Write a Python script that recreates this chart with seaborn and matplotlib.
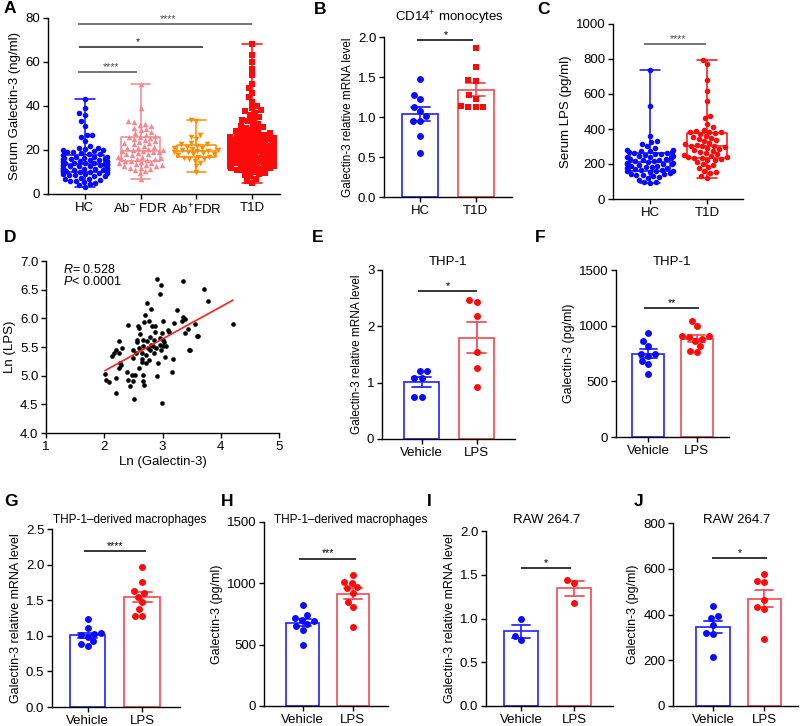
import warnings

import numpy as np
import pandas as pd
import matplotlib
matplotlib.use("Agg")
import matplotlib.pyplot as plt
import seaborn as sns

warnings.filterwarnings("ignore")

# ---------------- data ----------------
A_ORDER = ["HC", "Ab- FDR", "Ab+ FDR", "T1D"]
A_LABELS = ["HC", "Ab$^{-}$ FDR", "Ab$^{+}$FDR", "T1D"]
A_HC = [43, 39, 37, 36, 33, 31, 27, 27, 26, 24, 22, 21, 21, 20.5, 20, 20, 19.5, 19, 19,
        18.5, 18, 18, 17.5, 17, 17, 17, 16.5, 16.5, 16, 16, 16, 15.5, 15.5, 15, 15, 15,
        14.5, 14.5, 14, 14, 14, 14, 13.5, 13.5, 13, 13, 13, 13, 12.5, 12.5, 12.5, 12, 12,
        12, 12, 11.5, 11.5, 11, 11, 11, 11, 10.5, 10.5, 10, 10, 10, 10, 9.5, 9.5, 9, 9,
        8.5, 8.5, 8, 8, 7.5, 7, 7, 6.5, 6, 6, 5.5, 5, 4.5, 4, 3]
A_ABNEG = [50, 39, 33, 32.5, 32, 31.5, 31, 30, 29.5, 29, 28, 27.5, 27, 26.5, 26, 26, 25.5,
           25, 24.5, 24, 23.5, 23, 23, 22.5, 22, 21.5, 21, 21, 20.5, 20, 20, 19.5, 19.5, 19,
           19, 18.5, 18, 18, 17.5, 17, 17, 16.5, 16.5, 16, 16, 15.5, 15, 15, 14.5, 14, 14,
           13.5, 13, 13, 12.5, 12.5, 12, 12, 11.5, 11, 10.5, 9.5, 7]
A_ABPOS = [33.5, 33, 27, 26, 25, 23, 22.5, 22.5, 22, 21.5, 21, 21, 20.5, 20, 20, 19.5, 19.5,
           19, 19, 18.5, 18, 18, 17.5, 17, 17, 16.5, 16, 16, 15, 14, 12.5, 10]
A_T1D = [68, 63, 60, 57, 54, 50, 48, 46, 44, 42, 40, 39, 38, 37.5, 37, 36, 35, 34, 33.5, 33,
         32, 31.5, 31, 30.5, 30, 29.5, 29, 28.5, 28, 27.5, 27.5, 27, 27, 26.5, 26, 26, 25.5,
         25.5, 25, 25, 24.5, 24.5, 24, 24, 23.5, 23.5, 23, 23, 22.5, 22.5, 22, 22, 22, 21.5,
         21.5, 21, 21, 21, 20.5, 20.5, 20, 20, 20, 19.5, 19.5, 19.5, 19, 19, 19, 18.5, 18.5,
         18.5, 18, 18, 18, 18, 17.5, 17.5, 17.5, 17, 17, 17, 17, 17, 16.5, 16.5, 16.5, 16.5,
         16, 16, 16, 16, 16, 15.5, 15.5, 15.5, 15.5, 15.5, 15, 15, 15, 15, 15, 14.5, 14.5,
         14.5, 14.5, 14.5, 14, 14, 14, 14, 14, 13.5, 13.5, 13.5, 13.5, 13, 13, 13, 13, 12.5,
         12.5, 12.5, 12, 12, 12, 11.5, 11, 11, 10.5, 10, 9.5, 9, 8.5, 8, 7, 6, 5]

B_ORDER = ["HC", "T1D"]
B_HC = [1.47, 1.27, 1.22, 1.12, 1.07, 1.01, 0.95, 0.95, 0.76, 0.55]
B_T1D = [1.86, 1.62, 1.46, 1.45, 1.27, 1.23, 1.14, 1.13, 1.13, 1.12]

C_HC = [735, 530, 360, 330, 325, 315, 300, 290, 280, 278, 275, 272, 270, 268, 265, 262, 258,
        255, 250, 248, 245, 240, 238, 235, 230, 228, 225, 220, 218, 215, 210, 208, 205, 202,
        200, 198, 195, 190, 188, 185, 180, 178, 175, 170, 168, 165, 162, 160, 158, 155, 150,
        145, 140, 138, 135, 130, 125, 120, 110, 100, 95, 90]
C_T1D = [795, 770, 680, 615, 560, 475, 460, 430, 410, 395, 390, 385, 382, 380, 375, 370, 360,
         355, 350, 340, 335, 330, 320, 315, 310, 305, 305, 300, 295, 290, 285, 280, 275, 270,
         260, 255, 250, 245, 240, 238, 235, 232, 230, 225, 220, 210, 200, 195, 185, 175, 160,
         155, 150, 130, 122]

D_X = [2.01, 2.03, 2.08, 2.14, 2.16, 2.21, 2.21, 2.21, 2.25, 2.25, 2.26, 2.27, 2.31, 2.29,
       2.41, 2.39, 2.40, 2.44, 2.47, 2.49, 2.49, 2.50, 2.52, 2.51, 2.54, 2.57, 2.58, 2.60,
       2.59, 2.60, 2.62, 2.64, 2.64, 2.65, 2.66, 2.66, 2.66, 2.67, 2.68, 2.68, 2.70, 2.71,
       2.71, 2.73, 2.73, 2.75, 2.76, 2.78, 2.78, 2.80, 2.80, 2.82, 2.83, 2.85, 2.86, 2.87,
       2.88, 2.90, 2.91, 2.92, 2.95, 2.95, 2.96, 2.97, 2.97, 2.99, 2.99, 3.00, 3.01, 3.01,
       3.03, 3.04, 3.06, 3.10, 3.12, 3.16, 3.18, 3.19, 3.25, 3.33, 3.35, 3.36, 3.39, 3.39,
       3.44, 3.45, 3.47, 3.56, 3.59, 3.61, 3.71, 3.78, 4.21, 2.56, 2.76, 2.87]
D_Y = [5.03, 4.92, 4.89, 5.35, 5.39, 5.45, 4.96, 4.70, 5.61, 5.40, 5.14, 5.22, 5.48, 5.19,
       5.89, 5.07, 4.93, 4.82, 5.01, 5.45, 5.30, 4.90, 5.01, 4.59, 5.40, 5.58, 5.87, 5.84,
       5.13, 5.49, 5.73, 5.40, 5.29, 5.23, 5.62, 5.52, 5.02, 4.90, 4.83, 5.93, 6.06, 5.36,
       5.22, 6.27, 5.61, 5.48, 5.96, 5.68, 5.45, 6.17, 5.54, 5.86, 5.52, 5.39, 5.62, 5.77,
       5.48, 4.99, 6.68, 5.22, 5.65, 6.43, 5.54, 6.59, 5.44, 4.52, 5.74, 5.62, 5.96, 5.51,
       5.58, 5.33, 5.51, 5.79, 5.77, 5.06, 5.29, 5.91, 6.14, 5.96, 6.02, 6.65, 5.99, 5.75,
       5.81, 5.45, 5.44, 5.90, 5.69, 5.69, 6.52, 6.30, 5.90, 5.62, 5.28, 5.86]

VL_ORDER = ["Vehicle", "LPS"]
E_VEH = [1.20, 1.20, 1.08, 1.08, 0.74, 0.74]
E_LPS = [2.44, 2.46, 2.19, 1.54, 1.26, 0.92]
F_VEH = [936, 858, 816, 750, 726, 750, 654, 684, 570]
F_LPS = [1040, 995, 910, 905, 900, 880, 860, 820, 770, 765]
G_VEH = [1.23, 1.11, 1.04, 1.03, 1.01, 0.98, 0.92, 0.89, 0.86]
G_LPS = [1.97, 1.75, 1.63, 1.60, 1.55, 1.47, 1.37, 1.28, 1.28]
H_VEH = [825, 745, 720, 705, 690, 665, 650, 620, 495]
H_LPS = [1070, 1010, 1005, 970, 960, 925, 850, 805, 640]
I_VEH = [1.00, 0.76, 0.80]
I_LPS = [1.44, 1.41, 1.18]
J_VEH = [438, 395, 384, 355, 318, 315, 216]
J_LPS = [576, 547, 544, 464, 432, 423, 293]

# ---------------- style ----------------
BLUE = "#0a0aff"
BLUE_EDGE = "#2a2aff"
RED = "#ff0a0a"
RED_EDGE = "#f4505a"
PINK = "#f5878d"
ORANGE = "#ff8c00"

sns.set_theme(style="ticks")
plt.rcParams.update({
    "font.family": ["Liberation Sans", "DejaVu Sans"],
    "mathtext.fontset": "custom",
    "mathtext.rm": "Liberation Sans",
    "mathtext.it": "Liberation Sans:italic",
    "mathtext.bf": "Liberation Sans:bold",
    "axes.linewidth": 1.0,
    "axes.edgecolor": "black",
    "axes.labelcolor": "black",
    "text.color": "black",
    "xtick.color": "black",
    "ytick.color": "black",
    "xtick.major.size": 3.5,
    "ytick.major.size": 3.5,
    "xtick.major.width": 1.0,
    "ytick.major.width": 1.0,
    "xtick.major.pad": 2.5,
    "ytick.major.pad": 2,
    "xtick.labelsize": 9.5,
    "ytick.labelsize": 9.5,
    "axes.labelsize": 8.5,
})

W, H = 800, 726
fig = plt.figure(figsize=(W / 100, H / 100), dpi=100)


def px_axes(left, right, top, bottom):
    return fig.add_axes([left / W, 1 - bottom / H, (right - left) / W, (bottom - top) / H])


def fig_text(x, y, s, **kw):
    fig.text(x / W, 1 - y / H, s, **kw)


def long_df(order, groups):
    return pd.DataFrame({
        "group": np.repeat(order, [len(g) for g in groups]),
        "value": np.concatenate([np.asarray(g, float) for g in groups]),
    })


def sig(ax, x0, x1, y, text, color="black", fs=7.5, xs=None):
    ax.plot([x0, x1], [y, y], color=color, lw=1.1, clip_on=False, solid_capstyle="butt")
    xs = (x0 + x1) / 2 if xs is None else xs
    ax.annotate(text, xy=(xs, y), xytext=(0, 1.5), textcoords="offset points",
                ha="center", va="baseline", fontsize=fs, color=color, annotation_clip=False)


def finish(ax, xlim, ylim, yticks, ylabel, fmt="{:g}", labsize=8.5):
    ax.set_xlim(*xlim)
    ax.set_ylim(*ylim)
    ax.set_yticks(yticks)
    ax.set_yticklabels([fmt.format(t) for t in yticks])
    ax.set_xlabel("")
    ax.set_ylabel(ylabel, fontsize=labsize, labelpad=3)
    sns.despine(ax=ax)


def box_panel(ax, order, groups, colors, markers, sizes):
    df = long_df(order, groups)
    sns.boxplot(data=df, x="group", y="value", hue="group", order=order, hue_order=order,
                palette=colors, fill=False, whis=(0, 100), width=0.7, linewidth=1.1,
                showfliers=False, legend=False, ax=ax)
    for g, c, m, s in zip(order, colors, markers, sizes):
        sns.swarmplot(data=df[df.group == g], x="group", y="value", order=order, color=c,
                      marker=m, size=s, linewidth=0, warn_thresh=1, ax=ax)


def bar_panel(ax, order, groups, markers, size=5):
    df = long_df(order, groups)
    sns.barplot(data=df, x="group", y="value", hue="group", order=order, hue_order=order,
                palette=[BLUE_EDGE, RED_EDGE], fill=False, errorbar="se", capsize=0.35,
                width=0.65, linewidth=1.25, err_kws={"linewidth": 1.3}, legend=False, ax=ax)
    for g, c, m in zip(order, [BLUE, RED], markers):
        sns.swarmplot(data=df[df.group == g], x="group", y="value", order=order, color=c,
                      marker=m, size=size, linewidth=0, warn_thresh=1, ax=ax)


# ---------------- A ----------------
axA = px_axes(48, 280, 18, 194)
box_panel(axA, A_ORDER, [A_HC, A_ABNEG, A_ABPOS, A_T1D], [BLUE, PINK, ORANGE, RED],
          ["o", "^", "v", "s"], [4.0, 4.0, 4.0, 4.0])
finish(axA, (-0.66, 3.5), (0, 80), [0, 20, 40, 60, 80], "Serum Galectin-3 (ng/ml)", labsize=9.5)
axA.set_xticks(range(4))
axA.set_xticklabels(A_LABELS, fontsize=9.5)
axA.tick_params(axis="y", labelsize=9.5)
sig(axA, -0.13, 3.0, 77.3, "****", color="#505050", xs=1.49)
sig(axA, -0.11, 2.12, 66.8, "*", color="#202020", xs=0.95)
sig(axA, -0.13, 0.93, 55.5, "****", color="#505050", xs=0.47)

# ---------------- B ----------------
axB = px_axes(384, 512, 37, 197)
bar_panel(axB, B_ORDER, [B_HC, B_T1D], ["o", "s"])
finish(axB, (-0.66, 1.66), (0, 2.0), [0, 0.5, 1.0, 1.5, 2.0], "Galectin-3 relative mRNA level",
       fmt="{:.1f}")
sig(axB, -0.06, 0.95, 1.96, "*", xs=0.46)

# ---------------- C ----------------
axC = px_axes(613, 743, 24, 199)
box_panel(axC, B_ORDER, [C_HC, C_T1D], [BLUE, RED], ["o", "o"], [4.0, 4.0])
finish(axC, (-0.65, 1.63), (0, 1000), [0, 200, 400, 600, 800, 1000], "Serum LPS (pg/ml)",
       labsize=9.5)
sig(axC, -0.1, 0.98, 887, "****", color="#505050", xs=0.49)

# ---------------- D ----------------
axD = px_axes(46, 279, 261, 433)
sns.regplot(x=D_X, y=D_Y, ax=axD, ci=None, truncate=True,
            scatter_kws={"s": 11, "color": "black", "linewidths": 0, "alpha": 1},
            line_kws={"color": "#ff2020", "lw": 1.2})
axD.set_xlim(1, 5)
axD.set_ylim(4, 7)
axD.set_xticks([1, 2, 3, 4, 5])
axD.set_yticks([4.0, 4.5, 5.0, 5.5, 6.0, 6.5, 7.0])
axD.set_yticklabels([f"{t:.1f}" for t in [4.0, 4.5, 5.0, 5.5, 6.0, 6.5, 7.0]])
axD.set_xlabel("Ln (Galectin-3)", fontsize=9.5, labelpad=2)
axD.set_ylabel("Ln (LPS)", fontsize=9.5, labelpad=3)
sns.despine(ax=axD)
axD.text(1.3, 6.86, r"$\mathit{R}$= 0.528", fontsize=9, va="center")
axD.text(1.3, 6.64, r"$\mathit{P}$< 0.0001", fontsize=9, va="center")

# ---------------- E ----------------
axE = px_axes(382, 515, 270, 439)
bar_panel(axE, VL_ORDER, [E_VEH, E_LPS], ["o", "o"])
finish(axE, (-0.72, 1.70), (0, 3), [0, 1, 2, 3], "Galectin-3 relative mRNA level")
sig(axE, -0.06, 1.0, 2.63, "*")

# ---------------- F ----------------
axF = px_axes(616, 729, 270, 437)
bar_panel(axF, VL_ORDER, [F_VEH, F_LPS], ["o", "o"])
finish(axF, (-0.66, 1.66), (0, 1500), [0, 500, 1000, 1500], "Galectin-3 (pg/ml)", labsize=9)
sig(axF, -0.08, 1.05, 1161, "**")

# ---------------- G ----------------
axG = px_axes(52, 180, 529, 707)
bar_panel(axG, VL_ORDER, [G_VEH, G_LPS], ["o", "o"])
finish(axG, (-0.65, 1.69), (0, 2.5), [0, 0.5, 1.0, 1.5, 2.0, 2.5],
       "Galectin-3 relative mRNA level", fmt="{:.1f}", labsize=9)
sig(axG, -0.07, 1.06, 2.19, "****")

# ---------------- H ----------------
axH = px_axes(264, 388, 522, 706)
bar_panel(axH, VL_ORDER, [H_VEH, H_LPS], ["o", "o"])
finish(axH, (-0.77, 1.70), (0, 1500), [0, 500, 1000, 1500], "Galectin-3 (pg/ml)", labsize=9)
sig(axH, -0.07, 1.07, 1202, "***")

# ---------------- I ----------------
axI = px_axes(486, 613, 531, 706)
bar_panel(axI, VL_ORDER, [I_VEH, I_LPS], ["o", "o"])
finish(axI, (-0.66, 1.73), (0, 2.0), [0, 0.5, 1.0, 1.5, 2.0],
       "Galectin-3 relative mRNA level", fmt="{:.1f}", labsize=9)
sig(axI, 0.0, 0.94, 1.58, "*")

# ---------------- J ----------------
axJ = px_axes(673, 798, 523, 706)
bar_panel(axJ, VL_ORDER, [J_VEH, J_LPS], ["o", "o"])
finish(axJ, (-0.78, 1.66), (0, 800), [0, 200, 400, 600, 800], "Galectin-3 (pg/ml)", labsize=9)
sig(axJ, -0.01, 1.05, 646, "*")

# ---------------- titles and panel letters ----------------
fig_text(450, 18, "CD14$^{+}$ monocytes", ha="center", va="center", fontsize=9.5)
fig_text(448, 262, "THP-1", ha="center", va="center", fontsize=9.5)
fig_text(672, 262, "THP-1", ha="center", va="center", fontsize=9.5)
fig_text(130, 520, "THP-1\u2013derived macrophages", ha="center", va="center", fontsize=8.5)
fig_text(351, 520, "THP-1\u2013derived macrophages", ha="center", va="center", fontsize=8.5)
fig_text(547, 520, "RAW 264.7", ha="center", va="center", fontsize=9.5)
fig_text(737, 520, "RAW 264.7", ha="center", va="center", fontsize=9.5)

for letter, x, y in [("A", 4, 1), ("B", 314, 2), ("C", 537, 2), ("D", 4, 230),
                     ("E", 312, 230), ("F", 535, 230), ("G", 4, 494), ("H", 221, 494),
                     ("I", 427, 494), ("J", 634, 494)]:
    fig_text(x, y, letter, ha="left", va="top", fontsize=12.5, fontweight="bold")

fig.savefig("out.png", dpi=100)
